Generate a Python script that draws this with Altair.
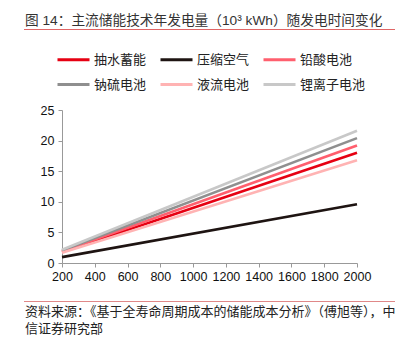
import altair as alt
import pandas as pd

FONT = "Liberation Sans, Noto Sans CJK SC"

x_vals = [200, 2000]
series_names = ["抽水蓄能", "压缩空气", "铅酸电池", "钠硫电池", "液流电池", "锂离子电池"]
pumped_hydro = [1.80, 18.0]
compressed_air = [0.96, 9.6]
lead_acid = [1.92, 19.2]
sodium_sulfur = [2.04, 20.4]
flow_battery = [1.68, 16.8]
lithium_ion = [2.16, 21.6]
series_values = [pumped_hydro, compressed_air, lead_acid, sodium_sulfur, flow_battery, lithium_ion]
colors = ["#e60012", "#1e1412", "#ff5f6e", "#8f8f8f", "#ffb3b3", "#c8c8c8"]

x_ticks = [200, 400, 600, 800, 1000, 1200, 1400, 1600, 1800, 2000]
y_ticks = [0, 5, 10, 15, 20, 25]

title_text = "图 14：主流储能技术年发电量（10³ kWh）随发电时间变化"
source_text = "资料来源：《基于全寿命周期成本的储能成本分析》（傅旭等），中\n信证券研究部"

rows = []
for i, (name, vals) in enumerate(zip(series_names, series_values)):
    for x, v in zip(x_vals, vals):
        rows.append({"hours": x, "value": v, "series": name, "order": i})
df = pd.DataFrame(rows)

lines = alt.Chart(df).mark_line(strokeWidth=2.6, clip=False).encode(
    x=alt.X("hours:Q",
            scale=alt.Scale(domain=[200, 2000], nice=False, zero=False),
            axis=alt.Axis(values=x_ticks, format="d", title=None, grid=False,
                          domainColor="#999999", tickColor="#999999", tickSize=4,
                          labelFontSize=12.5, labelColor="#111111", labelFont=FONT,
                          labelPadding=3, labelFlush=False)),
    y=alt.Y("value:Q",
            scale=alt.Scale(domain=[0, 25], nice=False),
            axis=alt.Axis(values=y_ticks, title=None, grid=False, domainColor="#999999",
                          tickColor="#999999", tickSize=4, labelFontSize=12.5,
                          labelColor="#111111", labelFont=FONT, labelPadding=4)),
    color=alt.Color("series:N",
                    scale=alt.Scale(domain=series_names, range=colors),
                    legend=alt.Legend(title=None, orient="none", legendX=-6, legendY=-68,
                                      direction="horizontal", columns=3, gridAlign="each",
                                      symbolType="stroke", symbolSize=1024,
                                      symbolStrokeWidth=3, labelFontSize=13, labelFont=FONT,
                                      labelColor="#222222", labelOffset=3, columnPadding=7,
                                      rowPadding=-10, padding=0)),
    order=alt.Order("order:Q"),
    detail="series:N",
)

title_df = pd.DataFrame({"t": [title_text]})
title = alt.Chart(title_df).mark_text(align="left", baseline="middle", fontSize=13.7,
                                      font=FONT, color="#333333").encode(
    text="t:N", x=alt.value(-37), y=alt.value(-89))

top_rule = alt.Chart(title_df).mark_rule(color="#e06666", strokeWidth=1).encode(
    x=alt.value(-38), x2=alt.value(333), y=alt.value(-80.5))
bottom_rule = alt.Chart(title_df).mark_rule(color="#e08888", strokeWidth=1.2).encode(
    x=alt.value(-38), x2=alt.value(333), y=alt.value(191.5))

src_df = pd.DataFrame({"t": [source_text]})
source = alt.Chart(src_df).mark_text(align="left", baseline="middle", fontSize=13,
                                     font=FONT, color="#222222", lineBreak="\n",
                                     lineHeight=17).encode(
    text="t:N", x=alt.value(-37), y=alt.value(202))

chart = alt.layer(lines, title, top_rule, bottom_rule, source).properties(
    width=295, height=153,
    autosize=alt.AutoSizeParams(type="none"),
    padding={"left": 62, "top": 110, "right": 44, "bottom": 79},
    background="white",
).configure_view(stroke=None)

chart.save("out.html", embed_options={"renderer": "svg", "actions": False})
